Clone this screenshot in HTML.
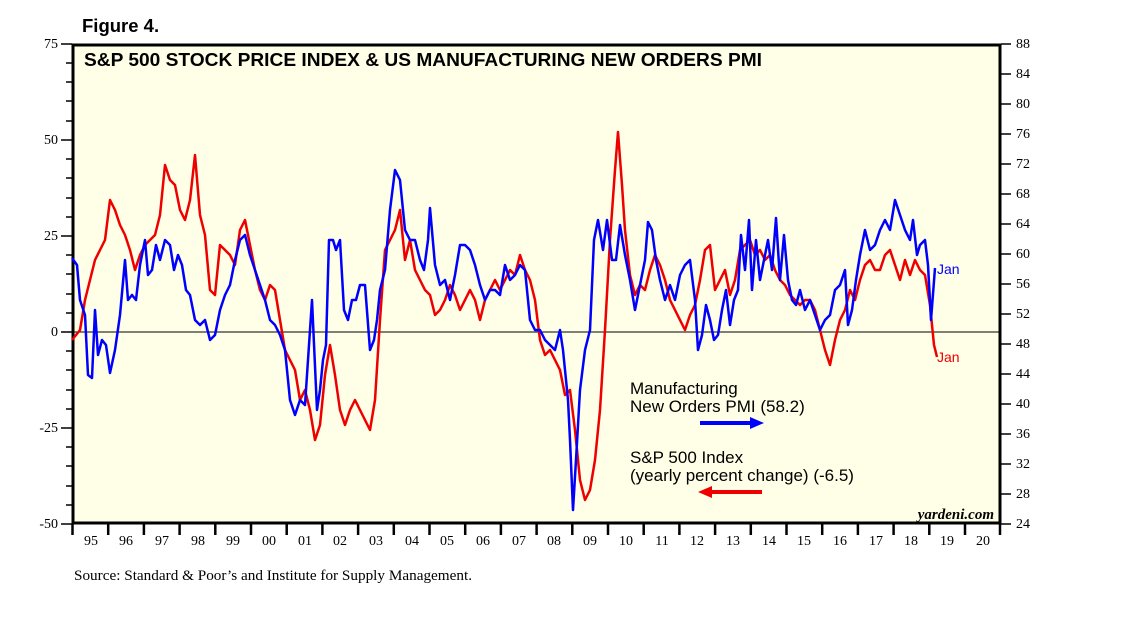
<!DOCTYPE html>
<html><head><meta charset="utf-8"><style>
body{margin:0;background:#fff;}
svg{display:block;}
</style></head><body>
<svg width="1138" height="621" viewBox="0 0 1138 621" xmlns="http://www.w3.org/2000/svg">
<text x="82" y="32" font-family="Liberation Sans, sans-serif" font-weight="bold" font-size="18.5">Figure 4.</text>
<rect x="73" y="45" width="927" height="478" fill="#fffee6" stroke="#000" stroke-width="3"/>
<text x="84" y="66" font-family="Liberation Sans, sans-serif" font-weight="bold" font-size="18" textLength="678" lengthAdjust="spacingAndGlyphs">S&amp;P 500 STOCK PRICE INDEX &amp; US MANUFACTURING NEW ORDERS PMI</text>
<line x1="73" y1="332" x2="1000" y2="332" stroke="#000" stroke-width="1"/>
<g stroke="#000" stroke-width="1.5">
<line x1="61" y1="44" x2="72" y2="44"/><line x1="66" y1="63" x2="72" y2="63"/><line x1="66" y1="82" x2="72" y2="82"/><line x1="66" y1="101" x2="72" y2="101"/><line x1="66" y1="121" x2="72" y2="121"/>
<line x1="61" y1="140" x2="72" y2="140"/><line x1="66" y1="159" x2="72" y2="159"/><line x1="66" y1="178" x2="72" y2="178"/><line x1="66" y1="198" x2="72" y2="198"/><line x1="66" y1="217" x2="72" y2="217"/>
<line x1="61" y1="236" x2="72" y2="236"/><line x1="66" y1="255" x2="72" y2="255"/><line x1="66" y1="274" x2="72" y2="274"/><line x1="66" y1="294" x2="72" y2="294"/><line x1="66" y1="313" x2="72" y2="313"/>
<line x1="61" y1="332" x2="72" y2="332"/><line x1="66" y1="351" x2="72" y2="351"/><line x1="66" y1="370" x2="72" y2="370"/><line x1="66" y1="390" x2="72" y2="390"/><line x1="66" y1="409" x2="72" y2="409"/>
<line x1="61" y1="428" x2="72" y2="428"/><line x1="66" y1="447" x2="72" y2="447"/><line x1="66" y1="466" x2="72" y2="466"/><line x1="66" y1="486" x2="72" y2="486"/><line x1="66" y1="505" x2="72" y2="505"/>
<line x1="61" y1="524" x2="72" y2="524"/>
</g>
<g font-family="Liberation Serif, serif" font-size="14" text-anchor="end">
<text x="58" y="48">75</text><text x="58" y="144">50</text><text x="58" y="240">25</text><text x="58" y="336">0</text><text x="58" y="432">-25</text><text x="58" y="528">-50</text>
</g>
<g font-family="Liberation Serif, serif" font-size="14">
<path d="M1001 44h10M1001 74h10M1001 104h10M1001 134h10M1001 164h10M1001 194h10M1001 224h10M1001 254h10M1001 284h10M1001 314h10M1001 344h10M1001 374h10M1001 404h10M1001 434h10M1001 464h10M1001 494h10M1001 524h10" stroke="#000" stroke-width="1.5"/>
<text x="1016" y="48">88</text><text x="1016" y="78">84</text><text x="1016" y="108">80</text><text x="1016" y="138">76</text><text x="1016" y="168">72</text><text x="1016" y="198">68</text><text x="1016" y="228">64</text><text x="1016" y="258">60</text><text x="1016" y="288">56</text><text x="1016" y="318">52</text><text x="1016" y="348">48</text><text x="1016" y="378">44</text><text x="1016" y="408">40</text><text x="1016" y="438">36</text><text x="1016" y="468">32</text><text x="1016" y="498">28</text><text x="1016" y="528">24</text>
</g>
<path d="M72.5 524v11M108.2 524v11M143.9 524v11M179.6 524v11M215.3 524v11M251 524v11M286.7 524v11M322.4 524v11M358.1 524v11M393.8 524v11M429.5 524v11M465.2 524v11M500.9 524v11M536.6 524v11M572.3 524v11M608 524v11M643.7 524v11M679.4 524v11M715.1 524v11M750.8 524v11M786.5 524v11M822.2 524v11M857.9 524v11M893.6 524v11M929.3 524v11M965 524v11M1000 524v11" stroke="#000" stroke-width="2.5"/>
<g font-family="Liberation Serif, serif" font-size="14" text-anchor="middle">
<text x="91" y="545">95</text><text x="126" y="545">96</text><text x="162" y="545">97</text><text x="198" y="545">98</text><text x="233" y="545">99</text><text x="269" y="545">00</text><text x="305" y="545">01</text><text x="340" y="545">02</text><text x="376" y="545">03</text><text x="412" y="545">04</text><text x="447" y="545">05</text><text x="483" y="545">06</text><text x="519" y="545">07</text><text x="554" y="545">08</text><text x="590" y="545">09</text><text x="626" y="545">10</text><text x="662" y="545">11</text><text x="697" y="545">12</text><text x="733" y="545">13</text><text x="769" y="545">14</text><text x="804" y="545">15</text><text x="840" y="545">16</text><text x="876" y="545">17</text><text x="911" y="545">18</text><text x="947" y="545">19</text><text x="983" y="545">20</text>
</g>
<text x="74" y="580" font-family="Liberation Serif, serif" font-size="15" textLength="398" lengthAdjust="spacingAndGlyphs">Source: Standard &amp; Poor’s and Institute for Supply Management.</text>
<polyline fill="none" stroke="#e00" stroke-width="2.5" stroke-linejoin="round" points="72,340 80,330 85,300 90,280 95,260 100,250 105,240 110,200 115,210 120,225 125,235 130,250 135,270 140,255 145,245 150,240 155,235 160,215 165,165 170,180 175,185 180,210 185,220 190,200 195,155 200,215 205,235 210,290 215,295 220,245 225,250 230,255 235,265 240,230 245,220 250,245 255,270 260,290 265,300 270,285 275,290 280,320 285,350 290,360 295,370 300,400 305,390 310,410 315,440 320,425 325,375 330,345 335,375 340,410 345,425 350,410 355,400 360,410 365,420 370,430 375,400 380,320 385,250 390,240 395,230 400,210 405,260 410,240 415,270 420,280 425,290 430,295 435,315 440,310 445,300 450,285 455,295 460,310 465,300 470,290 475,300 480,320 485,300 490,290 495,280 500,290 505,280 510,270 515,275 520,255 525,270 530,280 535,300 540,340 545,355 550,350 555,360 560,370 565,395 570,390 575,430 580,480 585,500 590,490 595,460 600,410 605,330 610,240 615,170 618,132 622,185 625,230 630,275 635,295 640,285 645,290 650,270 655,255 660,265 665,280 670,300 675,310 680,320 685,330 690,315 695,305 700,280 705,250 710,245 715,290 720,280 725,270 730,295 735,280 740,250 745,245 750,240 755,255 760,250 765,260 770,255 775,270 780,280 785,285 790,295 795,300 800,305 805,300 810,300 815,310 820,330 825,350 830,365 835,340 840,320 845,310 850,290 855,300 860,280 865,265 870,260 875,270 880,270 885,255 890,250 895,265 900,280 905,260 910,275 915,260 920,270 925,275 930,305 934,345 937,357"/>
<polyline fill="none" stroke="#00f" stroke-width="2.5" stroke-linejoin="round" points="72,258 77,265 80,300 85,315 88,375 92,378 95,310 98,355 102,340 106,345 110,373 115,350 120,315 125,260 128,300 132,295 136,300 140,265 145,240 148,275 152,270 156,245 160,260 165,240 170,245 174,270 178,255 182,265 186,290 190,295 195,320 200,325 205,320 210,340 215,335 220,310 225,295 230,285 235,260 240,240 245,235 250,255 255,270 260,285 265,300 270,320 275,325 280,335 285,350 290,400 295,415 300,400 305,405 310,330 312,300 317,410 320,390 323,360 326,345 329,240 333,240 336,250 340,240 344,310 348,320 352,300 356,300 360,285 365,285 370,350 374,340 377,320 380,290 385,270 390,210 395,170 400,180 405,230 410,240 415,240 420,260 424,270 428,240 430,208 435,265 440,285 445,280 450,300 455,275 460,245 465,245 470,250 475,265 480,285 485,300 490,290 495,290 500,295 505,265 510,280 515,275 520,265 525,270 530,320 535,330 540,330 545,340 550,345 555,350 560,330 563,350 568,400 570,440 573,510 576,460 580,390 585,350 590,330 594,240 598,220 603,250 607,220 612,260 616,260 620,225 625,255 630,280 635,310 640,285 645,260 648,222 652,230 656,260 660,280 665,300 670,285 675,300 680,275 685,265 690,260 695,300 698,350 702,335 706,305 710,320 714,340 718,335 722,310 726,290 730,325 734,300 738,290 741,235 745,270 749,220 752,290 756,240 760,280 764,260 768,240 772,270 776,218 780,280 784,235 788,280 792,300 796,305 800,290 805,310 810,300 815,315 820,330 825,320 830,315 835,290 840,285 845,270 848,325 852,310 856,280 860,255 865,230 870,250 875,245 880,230 885,220 890,230 895,200 900,215 905,230 910,240 913,220 917,255 920,245 925,240 928,265 931,320 935,268"/>
<text x="937" y="274" font-family="Liberation Sans, sans-serif" font-size="14" fill="#00f">Jan</text>
<text x="937" y="362" font-family="Liberation Sans, sans-serif" font-size="14" fill="#e00">Jan</text>
<g font-family="Liberation Sans, sans-serif" font-size="17">
<text x="630" y="394">Manufacturing</text>
<text x="630" y="412">New Orders PMI (58.2)</text>
<text x="630" y="463">S&amp;P 500 Index</text>
<text x="630" y="481">(yearly percent change) (-6.5)</text>
</g>
<line x1="700" y1="423" x2="752" y2="423" stroke="#00f" stroke-width="4"/>
<polygon points="764,423 750,417 750,429" fill="#00f"/>
<line x1="710" y1="492" x2="762" y2="492" stroke="#e00" stroke-width="4"/>
<polygon points="698,492 712,486 712,498" fill="#e00"/>
<text x="994" y="519" text-anchor="end" font-family="Liberation Serif, serif" font-style="italic" font-weight="bold" font-size="15">yardeni.com</text>
</svg>
</body></html>
